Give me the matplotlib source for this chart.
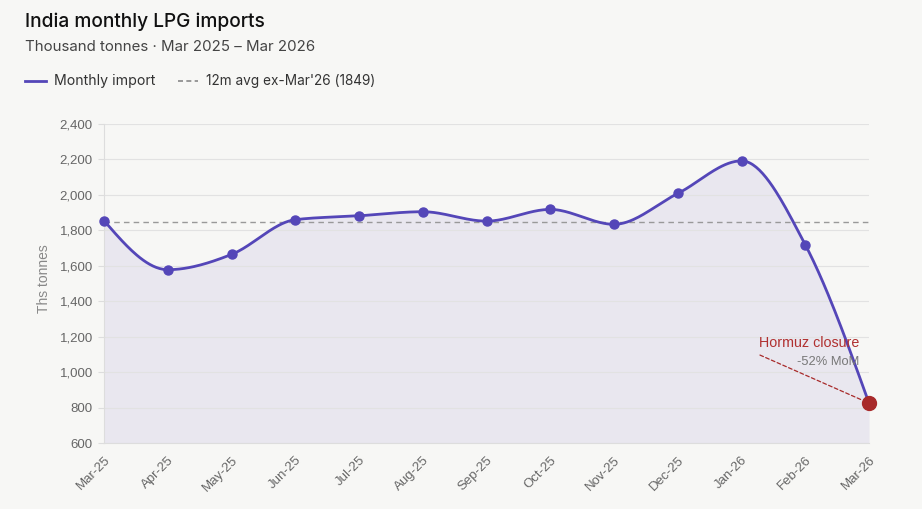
import numpy as np
import matplotlib
matplotlib.use("Agg")
import matplotlib.pyplot as plt
from matplotlib.lines import Line2D

months = ["Mar-25", "Apr-25", "May-25", "Jun-25", "Jul-25", "Aug-25", "Sep-25",
          "Oct-25", "Nov-25", "Dec-25", "Jan-26", "Feb-26", "Mar-26"]
imports = [1855, 1578, 1664, 1860, 1882, 1905, 1852, 1918, 1834, 2008, 2192, 1719, 825]
avg_12m = 1849
yticks = [600, 800, 1000, 1200, 1400, 1600, 1800, 2000, 2200, 2400]

BG = "#f7f7f5"
LINE = "#5446b8"
FILL = "#e9e7ef"
RED = "#a82a2a"

def monotone(xs, ys, n=40):
    # d3 curveMonotoneX-style interpolation for drawing
    xs = np.asarray(xs, float); ys = np.asarray(ys, float)
    h = np.diff(xs); s = np.diff(ys) / h
    N = len(xs)
    m = np.zeros(N)
    for i in range(1, N - 1):
        if s[i-1] * s[i] <= 0:
            m[i] = 0
        else:
            p = (s[i-1] * h[i] + s[i] * h[i-1]) / (h[i-1] + h[i])
            m[i] = (np.sign(s[i-1]) + np.sign(s[i])) * min(abs(s[i-1]), abs(s[i]), 0.5 * abs(p))
    m[0] = (3 * s[0] - m[1]) / 2 if N > 2 else s[0]
    m[-1] = (3 * s[-1] - m[-2]) / 2 if N > 2 else s[-1]
    ox, oy = [], []
    t = np.linspace(0, 1, n)
    for i in range(N - 1):
        x0, x1, y0, y1 = xs[i], xs[i+1], ys[i], ys[i+1]
        dx = (x1 - x0) / 3
        p0 = np.array([x0, y0]); p1 = np.array([x0 + dx, y0 + dx * m[i]])
        p2 = np.array([x1 - dx, y1 - dx * m[i+1]]); p3 = np.array([x1, y1])
        pts = ((1-t)**3)[:, None]*p0 + (3*(1-t)**2*t)[:, None]*p1 + (3*(1-t)*t**2)[:, None]*p2 + (t**3)[:, None]*p3
        ox.extend(pts[:, 0]); oy.extend(pts[:, 1])
    return np.array(ox), np.array(oy)

fig = plt.figure(figsize=(9.22, 5.09), dpi=100, facecolor=BG)
ax = fig.add_axes([104/922, 1-443/509, 765/922, 319/509], facecolor=BG)

x = np.arange(len(months))
sx, sy = monotone(x, imports)

ax.set_xlim(0, len(months) - 1)
ax.set_ylim(yticks[0], yticks[-1])
ax.fill_between(sx, sy, yticks[0], color=FILL, zorder=1, lw=0)
ax.plot(sx, sy, color=LINE, lw=2, zorder=3, clip_on=False)
ax.plot(x[:-1], imports[:-1], 'o', color=LINE, ms=6.5, zorder=4, clip_on=False)
ax.plot(x[-1], imports[-1], 'o', color=RED, ms=10, zorder=5, clip_on=False)
ax.axhline(avg_12m, color="#999999", lw=1, ls=(0, (4, 3)), zorder=2)

ax.set_yticks(yticks)
ax.set_yticklabels([f"{v:,}" for v in yticks], fontsize=9.5, color="#666666", family="Liberation Sans")
ax.set_xticks(x)
ax.set_xticklabels(months, rotation=45, ha="right", rotation_mode="anchor",
                   fontsize=9.5, color="#666666", family="Liberation Sans")
ax.tick_params(axis="y", length=4, color="#dddddd", pad=4)
ax.tick_params(axis="x", length=0, pad=8)
ax.grid(axis="y", color="#e2e2e2", lw=0.8, zorder=0)
for s in ["top", "right"]:
    ax.spines[s].set_visible(False)
ax.spines["left"].set_color("#dddddd")
ax.spines["bottom"].set_color("#dddddd")
ax.set_ylabel("Ths tonnes", fontsize=10, color="#888888", family="Liberation Sans")
ax.yaxis.set_label_coords(-53/765, 0.515)

# annotation
ax.annotate("", xy=(x[-1], imports[-1]), xytext=(-78.5, 34.6), textcoords="offset points",
            arrowprops=dict(arrowstyle="-", color=RED, lw=0.9, ls=(0, (3, 2)), shrinkA=0, shrinkB=5),
            zorder=4)
ax.annotate("Hormuz closure", xy=(x[-1], imports[-1]), xytext=(-7, 43), textcoords="offset points",
            ha="right", va="center", color="#b03030", fontsize=10.3, family="Liberation Sans", zorder=6)
ax.annotate("-52% MoM", xy=(x[-1], imports[-1]), xytext=(-7, 29.5), textcoords="offset points",
            ha="right", va="center", color="#777777", fontsize=9.3, family="Liberation Sans", zorder=6)

# titles
fig.text(25/922, 1-22/509, "India monthly LPG imports", fontsize=13.8, fontweight="medium",
         family="Inter", color="#111111", va="center", ha="left")
fig.text(25/922, 1-47/509, "Thousand tonnes · Mar 2025 – Mar 2026", fontsize=10.8,
         family="Inter", color="#444444", va="center", ha="left")

# legend
ly = 1 - 81/509
fig.add_artist(Line2D([25/922, 46/922], [ly, ly], color=LINE, lw=2, transform=fig.transFigure))
fig.text(54/922, ly, "Monthly import", fontsize=10.2, family="Inter", color="#333333", va="center")
fig.add_artist(Line2D([178/922, 198/922], [ly, ly], color="#888888", lw=1.2, ls=(0, (3, 2)),
                      transform=fig.transFigure))
fig.text(206/922, ly, "12m avg ex-Mar'26 (1849)", fontsize=9.8, family="Inter", color="#333333", va="center")

fig.savefig("out.png", dpi=100, facecolor=BG)
